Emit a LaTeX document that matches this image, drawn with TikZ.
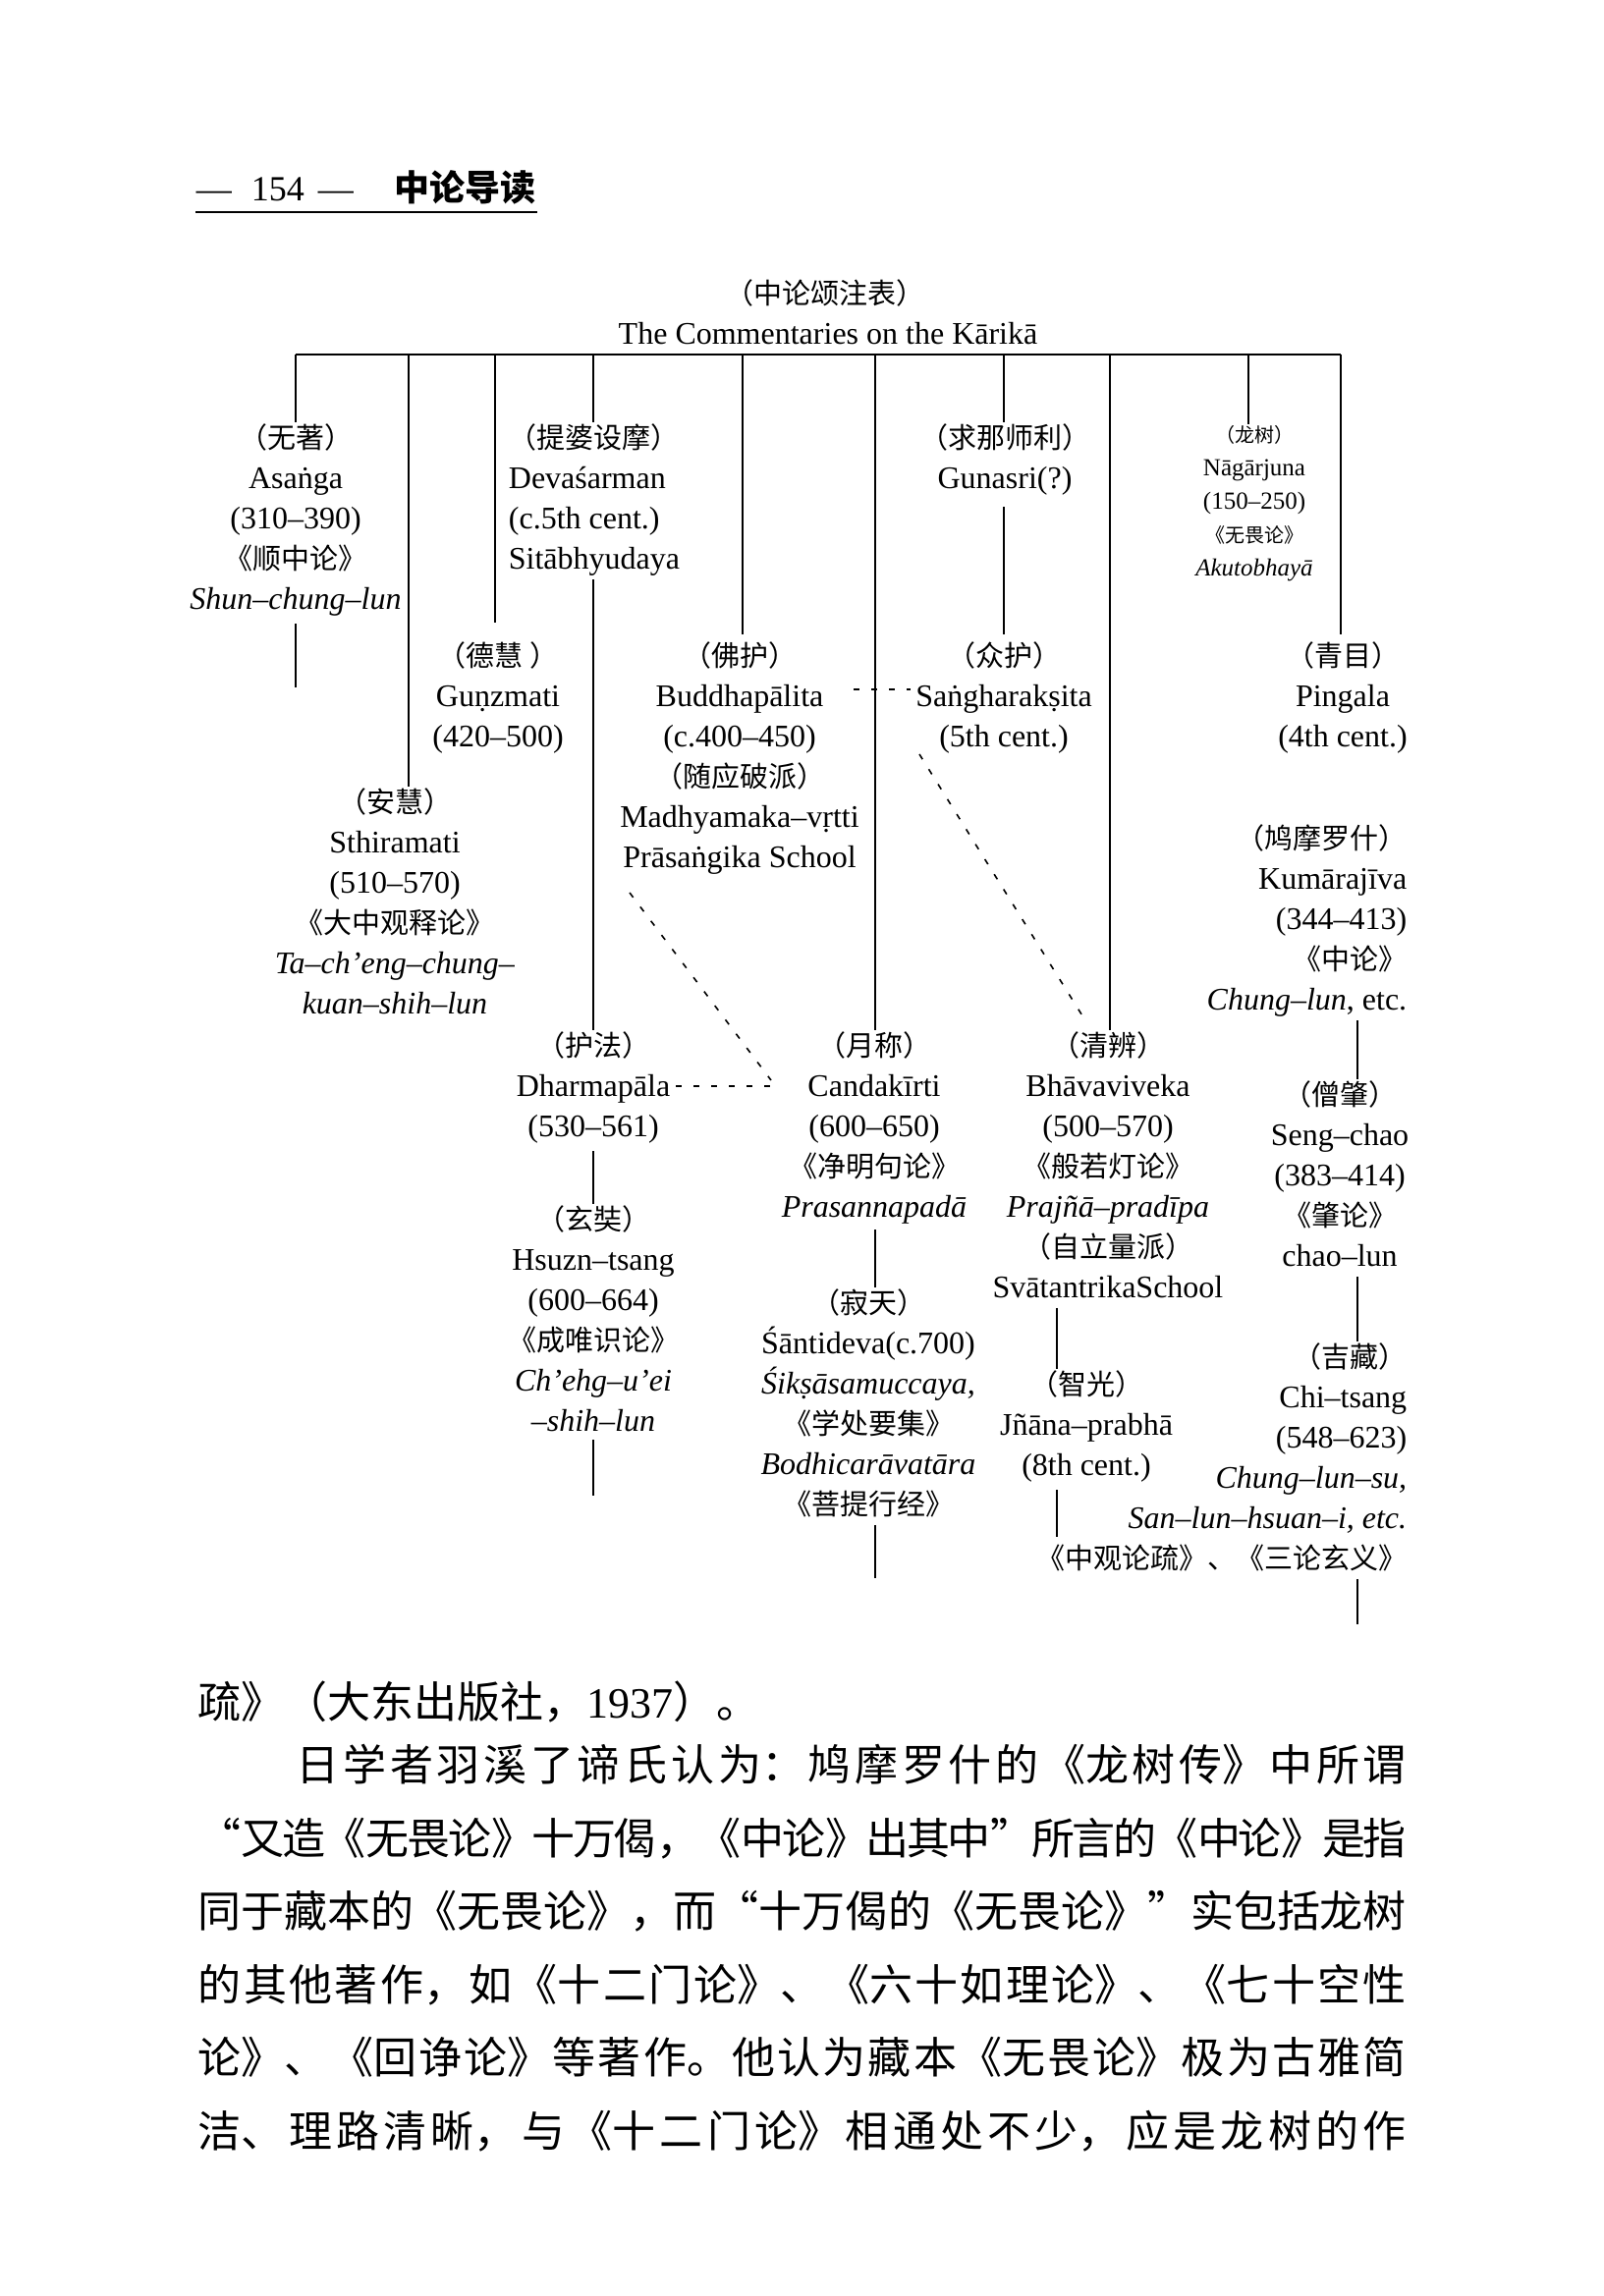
\documentclass[tikz,border=0pt]{standalone}
\usepackage{fontspec}
\setmainfont{Liberation Serif}
\newfontfamily\cjk{Noto Sans CJK SC}
\XeTeXlinebreaklocale "zh"
\XeTeXlinebreakskip=0pt plus 5pt minus 2pt
\newcommand\latf{\fontsize{16}{20.5}\selectfont}
\newcommand\latsf{\fontsize{12.5}{17}\selectfont}
\newcommand\zh[1]{{\cjk\fontsize{14.5}{20.5}\selectfont #1}}
\newcommand\zhs[1]{{\cjk\fontsize{10}{17}\selectfont #1}}
\newcommand\bodyfont{\cjk\fontsize{22}{37}\selectfont}
\newcommand\bodyline[1]{\parbox{615pt}{\bodyfont\tolerance=10000\parfillskip=0pt\relax #1}}

\begin{document}
\begin{tikzpicture}[x=0.5pt,y=-0.5pt,line width=0.8pt,inner sep=0.5pt,
  grp/.style={align=center,font=\latf},
  hint/.style={dash pattern=on 3pt off 6pt}]
  \useasboundingbox (0,0) rectangle (1632,2338);
  \node[anchor=west,inner xsep=0pt,inner ysep=3.4pt,font=\fontsize{18}{20}\selectfont] (header) at (199,191)
    {—\hspace{10pt}154\hspace{7pt}—\hspace{21pt}{\cjk\bfseries 中论导读}};
  \draw[line width=1pt] (header.south west) -- (header.south east);

  \node (title) at (840,298) {\zh{（中论颂注表）}};
  \node[font=\latf] (subtitle) at (843,340) {The Commentaries on the Kārikā};

  \coordinate (b1) at (301,361);  \coordinate (b2) at (416,361);
  \coordinate (b3) at (504,361);  \coordinate (b4) at (604,361);
  \coordinate (b5) at (756,361);  \coordinate (b6) at (891,361);
  \coordinate (b7) at (1022,361); \coordinate (b8) at (1130,361);
  \coordinate (b9) at (1271,361); \coordinate (b10) at (1365,361);
  \coordinate (xj) at (1076,0);   \coordinate (xk) at (1382,0);

  \node[grp,anchor=north] (asanga) at (301,430)
    {\zh{（无著）}\\Asaṅga\\(310–390)\\\zh{《顺中论》}\\\textit{Shun–chung–lun}};
  \node[grp,align=left,anchor=north] (devasarman) at (605,430)
    {\zh{（提婆设摩）}\\Devaśarman\\(c.5th cent.)\\Sitābhyudaya};
  \node[grp,anchor=north] (gunasri) at (1023,430) {\zh{（求那师利）}\\Gunasri(?)};
  \node[grp,font=\latsf,anchor=north] (nagarjuna) at (1277,432)
    {\zhs{（龙树）}\\Nāgārjuna\\(150–250)\\\zhs{《无畏论》}\\\textit{Akutobhayā}};
  \node[grp,anchor=north] (gunamati) at (507,652) {\zh{（德慧 ）}\\Guṇzmati\\(420–500)};
  \node[grp,anchor=north] (buddhapalita) at (753,652)
    {\zh{（佛护）}\\Buddhapālita\\(c.400–450)\\\zh{（随应破派）}\\Madhyamaka–vṛtti\\Prāsaṅgika School};
  \node[grp,anchor=north] (sangharaksita) at (1022,652) {\zh{（众护）}\\Saṅgharakṣita\\(5th cent.)};
  \node[grp,anchor=north] (pingala) at (1367,652) {\zh{（青目）}\\Pingala\\(4th cent.)};
  \node[grp,anchor=north] (sthiramati) at (402,801)
    {\zh{（安慧）}\\Sthiramati\\(510–570)\\\zh{《大中观释论》}\\\textit{Ta–ch'eng–chung–}\\\textit{kuan–shih–lun}};
  \node[grp,align=right,anchor=north east] (kumarajiva) at (1434,838)
    {\zh{（鸠摩罗什）}\\Kumārajīva\\(344–413)\\\zh{《中论》}\\\textit{Chung–lun}, etc.};
  \node[grp,anchor=north] (dharmapala) at (604,1049) {\zh{（护法）}\\Dharmapāla\\(530–561)};
  \node[grp,anchor=north] (candakirti) at (890,1049)
    {\zh{（月称）}\\Candakīrti\\(600–650)\\\zh{《净明句论》}\\\textit{Prasannapadā}};
  \node[grp,anchor=north] (bhavaviveka) at (1128,1049)
    {\zh{（清辨）}\\Bhāvaviveka\\(500–570)\\\zh{《般若灯论》}\\\textit{Prajñā–pradīpa}\\\zh{（自立量派）}\\SvātantrikaSchool};
  \node[grp,anchor=north] (sengchao) at (1364,1099)
    {\zh{（僧肇）}\\Seng–chao\\(383–414)\\\zh{《肇论》}\\chao–lun};
  \node[grp,anchor=north] (xuanzang) at (604,1226)
    {\zh{（玄奘）}\\Hsuzn–tsang\\(600–664)\\\zh{《成唯识论》}\\\textit{Ch'ehg–u'ei}\\\textit{–shih–lun}};
  \node[grp,anchor=north] (santideva) at (884,1311)
    {\zh{（寂天）}\\Śāntideva(c.700)\\\textit{Śikṣāsamuccaya,}\\\zh{《学处要集》}\\\textit{Bodhicarāvatāra}\\\zh{《菩提行经》}};
  \node[grp,anchor=north] (jnana) at (1106,1394) {\zh{（智光）}\\Jñāna–prabhā\\(8th cent.)};
  \node[grp,align=right,anchor=north east] (jizang) at (1434,1366)
    {\zh{（吉藏）}\\Chi–tsang\\(548–623)\\\textit{Chung–lun–su,}\\\textit{San–lun–hsuan–i, etc.}\\\zh{《中观论疏》、《三论玄义》}};

  \coordinate (asanga-end) at (301,700);
  \coordinate (xuanzang-end) at (604,1523);
  \coordinate (santideva-end) at (891,1607);
  \coordinate (jnana-end) at (1076,1565);
  \coordinate (jizang-end) at (1382,1654);

  \draw (b1) -- (b10);
  \draw (b1) -- (b1 |- asanga.north);
  \draw (b2) -- (b2 |- sthiramati.north);
  \draw[shorten >=9pt] (b3) -- (b3 |- gunamati.north);
  \draw (b4) -- (b4 |- devasarman.north);
  \draw[shorten >=3pt] (b5) -- (b5 |- buddhapalita.north);
  \draw (b6) -- (b6 |- candakirti.north);
  \draw (b7) -- (b7 |- gunasri.north);
  \draw (b8) -- (b8 |- bhavaviveka.north);
  \draw (b9) -- (b9 |- nagarjuna.north);
  \draw[shorten >=3pt] (b10) -- (b10 |- pingala.north);

  \draw[shorten <=3pt] (asanga.south) -- (asanga-end);
  \draw[shorten <=1pt] (b4 |- devasarman.south) -- (b4 |- dharmapala.north);
  \draw[shorten <=5pt,shorten >=3pt] (b7 |- gunasri.south) -- (b7 |- sangharaksita.north);
  \draw[shorten <=1pt] (xk |- kumarajiva.south) -- (xk |- sengchao.north);
  \draw[shorten <=3pt] (b4 |- dharmapala.south) -- (b4 |- xuanzang.north);
  \draw[shorten <=2pt] (b6 |- candakirti.south) -- (b6 |- santideva.north);
  \draw[shorten <=4pt] (xj |- bhavaviveka.south) -- (xj |- jnana.north);
  \draw[shorten <=4pt] (xk |- sengchao.south) -- (xk |- jizang.north);
  \draw[shorten <=3pt] (b4 |- xuanzang.south) -- (xuanzang-end);
  \draw[shorten <=3pt] (b6 |- santideva.south) -- (santideva-end);
  \draw[shorten <=3pt] (xj |- jnana.south) -- (jnana-end);
  \draw[shorten <=3pt] (xk |- jizang.south) -- (jizang-end);

  \coordinate (bp-e) at (869,702);   \coordinate (sr-w) at (927,702);
  \coordinate (pr-s) at (641,909);   \coordinate (ck-w) at (785,1100);
  \coordinate (dp-e) at (688,1106);  \coordinate (ck-wl) at (785,1106);
  \coordinate (sr-s) at (936,768);   \coordinate (bv-n) at (1103,1036);
  \draw[hint] (bp-e) -- (sr-w);
  \draw[hint] (pr-s) -- (ck-w);
  \draw[hint] (dp-e) -- (ck-wl);
  \draw[hint] (sr-s) -- (bv-n);

  \node[anchor=west,inner sep=0pt] (para0) at (201,1733) {\bodyfont 疏》（大东出版社，{\rmfamily 1937}）。};
  \node[anchor=west,inner sep=0pt] (para1) at (201,1797) {\bodyline{\hspace*{50pt}日学者羽溪了谛氏认为：鸠摩罗什的《龙树传》中所谓}};
  \node[anchor=west,inner sep=0pt] (para2) at (201,1872) {\bodyline{“又造《无畏论》十万偈，《中论》出其中”所言的《中论》是指}};
  \node[anchor=west,inner sep=0pt] (para3) at (201,1946) {\bodyline{同于藏本的《无畏论》，而“十万偈的《无畏论》”实包括龙树}};
  \node[anchor=west,inner sep=0pt] (para4) at (201,2021) {\bodyline{的其他著作，如《十二门论》、《六十如理论》、《七十空性}};
  \node[anchor=west,inner sep=0pt] (para5) at (201,2095) {\bodyline{论》、《回诤论》等著作。他认为藏本《无畏论》极为古雅简}};
  \node[anchor=west,inner sep=0pt] (para6) at (201,2170) {\bodyline{洁、理路清晰，与《十二门论》相通处不少，应是龙树的作}};
\end{tikzpicture}
\end{document}
